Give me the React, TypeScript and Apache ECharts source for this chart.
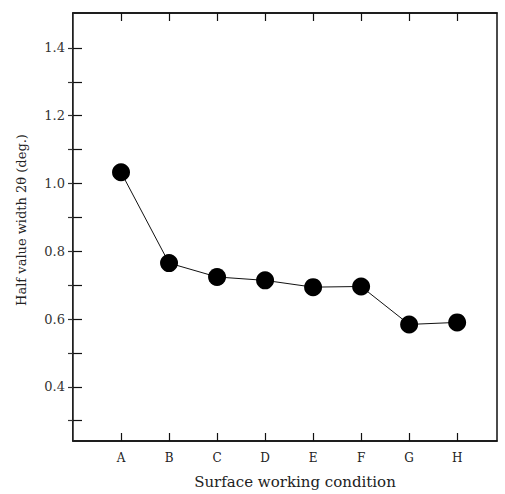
import React, { useEffect, useRef } from "react";
import * as echarts from "echarts";

const categories = ["A", "B", "C", "D", "E", "F", "G", "H"];
const halfWidth = [1.033, 0.765, 0.724, 0.714, 0.694, 0.696, 0.584, 0.59];
const yLabelValues = [0.4, 0.6, 0.8, 1.0, 1.2, 1.4];
const yTickValues = [0.3, 0.4, 0.5, 0.6, 0.7, 0.8, 0.9, 1.0, 1.1, 1.2, 1.3, 1.4];
const xPositions = [1, 2, 3, 4, 5, 6, 7, 8];

export default function App() {
  const ref = useRef<HTMLDivElement>(null);
  useEffect(() => {
    if (!ref.current) return;
    const chart = echarts.init(ref.current, null, { renderer: "svg" });
    const font = "'DejaVu Serif', 'Liberation Serif', serif";
    const catFmt = (v: number) => {
      const i = Math.round(v) - 1;
      return categories[i] ?? "";
    };
    chart.setOption({
      animation: false,
      backgroundColor: "#fff",
      grid: {
        left: 73,
        right: 8,
        top: 13,
        bottom: 52,
        show: true,
        borderColor: "#111",
        borderWidth: 1.5,
        backgroundColor: "transparent",
      },
      xAxis: [
        {
          type: "value",
          min: 0,
          max: 8.83,
          position: "bottom",
          name: "Surface working condition",
          nameLocation: "middle",
          nameGap: 33,
          nameTextStyle: { fontFamily: font, fontSize: 15, color: "#222", padding: [0, 0, 0, 20] },
          axisLine: { show: true, lineStyle: { color: "#111", width: 1.5 } },
          axisTick: {
            show: true,
            inside: true,
            length: 8,
            customValues: xPositions,
            lineStyle: { color: "#111", width: 1.2 },
          },
          axisLabel: {
            show: true,
            customValues: xPositions,
            formatter: catFmt,
            fontFamily: font,
            fontSize: 12,
            color: "#222",
            margin: 11,
          },
          splitLine: { show: false },
        },
        {
          type: "value",
          min: 0,
          max: 8.83,
          position: "top",
          axisLine: { show: true, lineStyle: { color: "#111", width: 1.5 } },
          axisTick: {
            show: true,
            inside: true,
            length: 8,
            customValues: xPositions,
            lineStyle: { color: "#111", width: 1.2 },
          },
          axisLabel: { show: false },
          splitLine: { show: false },
        },
      ],
      yAxis: [
        {
          type: "value",
          min: 0.24,
          max: 1.503,
          position: "left",
          name: "Half value width 2θ (deg.)",
          nameLocation: "middle",
          nameGap: 45,
          nameRotate: 90,
          nameTextStyle: { fontFamily: font, fontSize: 13, color: "#222", padding: [0, 0, 0, 14] },
          axisLine: { show: true, lineStyle: { color: "#111", width: 1.5 } },
          axisTick: {
            show: true,
            inside: true,
            length: 9,
            customValues: yTickValues,
            lineStyle: { color: "#111", width: 1.2 },
          },
          axisLabel: {
            show: true,
            customValues: yLabelValues,
            formatter: (v: number) => v.toFixed(1),
            fontFamily: font,
            fontSize: 13,
            color: "#333",
            margin: 8,
          },
          splitLine: { show: false },
        },
        {
          type: "value",
          min: 0.24,
          max: 1.503,
          position: "right",
          axisLine: { show: true, lineStyle: { color: "#555", width: 1 } },
          axisTick: {
            show: true,
            inside: true,
            length: 5,
            customValues: yTickValues,
            lineStyle: { color: "#333", width: 1.2 },
          },
          axisLabel: { show: false },
          splitLine: { show: false },
        },
      ],
      series: [
        {
          type: "line",
          xAxisIndex: 0,
          yAxisIndex: 0,
          data: halfWidth.map((v, i) => [xPositions[i], v]),
          symbol: "circle",
          symbolSize: 18,
          itemStyle: { color: "#000" },
          lineStyle: { color: "#111", width: 1 },
        },
      ],
    });
    return () => chart.dispose();
  }, []);
  return (
    <div
      ref={ref}
      style={{ position: "absolute", left: 0, top: 0, width: 505, height: 494 }}
    />
  );
}
